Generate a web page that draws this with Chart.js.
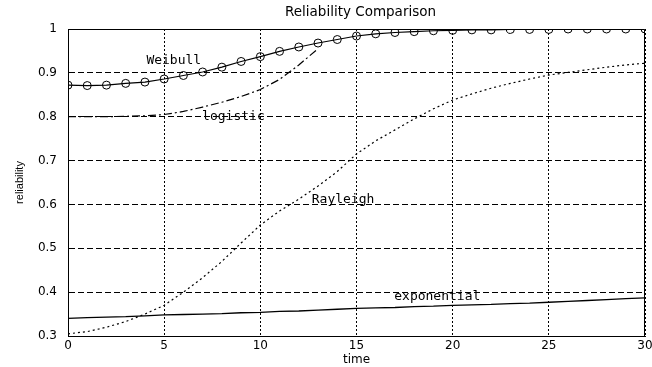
<!DOCTYPE html>
<html>
<head>
<meta charset="utf-8">
<script src="https://cdn.jsdelivr.net/npm/chart.js@4"></script>
<style>
  html, body { margin: 0; padding: 0; background: #fff; }
  #wrap { width: 652px; height: 367px; }
</style>
</head>
<body>
<div id="wrap"><canvas id="myChart"></canvas></div>
<script>
// time axis (0..30)
var time = [0,1,2,3,4,5,6,7,8,9,10,11,12,13,14,15,16,17,18,19,20,21,22,23,24,25,26,27,28,29,30];

var weibull = [0.872,0.871,0.872,0.876,0.879,0.886,0.894,0.902,0.913,0.926,0.937,0.949,0.959,0.968,0.976,0.984,0.989,0.992,0.994,0.996,0.997,0.998,0.998,0.999,0.999,0.999,1.0,1.0,1.0,1.0,1.0];
var logistic = [0.800,0.800,0.800,0.801,0.802,0.805,0.812,0.822,0.833,0.846,0.862,0.885,0.918,0.955];
var rayleigh = [0.305,0.310,0.320,0.333,0.350,0.370,0.400,0.433,0.470,0.512,0.553,0.585,0.612,0.642,0.675,0.715,0.745,0.770,0.795,0.818,0.838,0.852,0.865,0.876,0.886,0.895,0.901,0.907,0.913,0.918,0.922];
var exponential = [0.340,0.342,0.343,0.344,0.346,0.348,0.349,0.350,0.351,0.353,0.354,0.356,0.357,0.359,0.361,0.363,0.364,0.365,0.367,0.368,0.370,0.371,0.372,0.374,0.375,0.377,0.379,0.381,0.383,0.385,0.387];

var xTicks = [0, 5, 10, 15, 20, 25, 30];
var yTicks = [0.3, 0.4, 0.5, 0.6, 0.7, 0.8, 0.9, 1];
var yTickLabels = ['0.3', '0.4', '0.5', '0.6', '0.7', '0.8', '0.9', '1'];

// curve labels: [text, x, y]
var curveLabels = [
  ['Weibull', 5.5, 0.929],
  ['logistic', 8.6, 0.800],
  ['Rayleigh', 14.3, 0.610],
  ['exponential', 19.2, 0.389]
];

function pts(ys) {
  return ys.map(function (y, i) { return {x: time[i], y: y}; });
}

// title, curve labels and the box border
var extras = {
  id: 'extras',
  afterDatasetsDraw: function (chart) {
    var c = chart.ctx, a = chart.chartArea;
    var xs = chart.scales.x, ys = chart.scales.y;
    c.save();
    c.strokeStyle = '#000';
    c.lineWidth = 1;
    c.beginPath();
    c.moveTo(a.left, a.top + 0.5);
    c.lineTo(a.right - 0.5, a.top + 0.5);
    c.lineTo(a.right - 0.5, a.bottom);
    c.stroke();
    c.fillStyle = '#000';
    c.textAlign = 'center';
    c.textBaseline = 'middle';
    c.font = '13px "DejaVu Sans Mono"';
    curveLabels.forEach(function (l) {
      c.fillText(l[0], xs.getPixelForValue(l[1]), ys.getPixelForValue(l[2]));
    });
    c.font = '13.5px "DejaVu Sans"';
    c.fillText('Reliability Comparison', (a.left + a.right) / 2 + 4, 12);
    c.restore();
  }
};

var ctx = document.getElementById('myChart').getContext('2d');
var chart = new Chart(ctx, {
  type: 'line',
  data: {
    datasets: [{
      label: 'Weibull',
      data: pts(weibull),
      borderColor: '#000',
      borderWidth: 1.2,
      pointRadius: 4,
      pointBorderWidth: 1,
      pointBorderColor: '#000',
      pointBackgroundColor: 'rgba(0,0,0,0)'
    }, {
      label: 'logistic',
      data: pts(logistic),
      borderColor: '#000',
      borderWidth: 1.2,
      borderDash: [8, 3, 2, 3],
      pointRadius: 0
    }, {
      label: 'Rayleigh',
      data: pts(rayleigh),
      borderColor: '#000',
      borderWidth: 1.2,
      borderDash: [2, 3],
      pointRadius: 0
    }, {
      label: 'exponential',
      data: pts(exponential),
      borderColor: '#000',
      borderWidth: 1.3,
      pointRadius: 0
    }]
  },
  options: {
    responsive: true,
    maintainAspectRatio: false,
    animation: false,
    events: [],
    layout: {
      padding: {left: 0, right: 7, top: 29, bottom: 0}
    },
    plugins: {
      legend: {display: false},
      tooltip: {enabled: false}
    },
    scales: {
      x: {
        type: 'linear',
        min: 0,
        max: 30,
        afterBuildTicks: function (s) { s.ticks = xTicks.map(function (v) { return {value: v}; }); },
        afterFit: function (s) { s.height = 31; s.paddingRight = 0; s.paddingLeft = 0; },
        ticks: {
          color: '#000',
          padding: 3,
          maxRotation: 0,
          font: {family: 'DejaVu Sans', size: 12}
        },
        grid: {color: '#000', lineWidth: 1, drawTicks: false},
        border: {color: '#000', width: 1, dash: [2, 2]},
        title: {
          display: true,
          text: 'time',
          color: '#000',
          padding: {top: 3, bottom: 0},
          font: {family: 'DejaVu Sans', size: 12}
        }
      },
      y: {
        type: 'linear',
        min: 0.3,
        max: 1,
        afterBuildTicks: function (s) { s.ticks = yTicks.map(function (v) { return {value: v}; }); },
        afterFit: function (s) { s.width = 68; },
        ticks: {
          color: '#000',
          padding: 11,
          font: {family: 'DejaVu Sans', size: 12},
          callback: function (v) { return yTickLabels[yTicks.indexOf(v)]; }
        },
        grid: {color: '#000', lineWidth: 1, drawTicks: false},
        border: {color: '#000', width: 1, dash: [6, 3]},
        title: {
          display: true,
          text: 'reliability',
          color: '#000',
          padding: {top: 13, bottom: 0},
          font: {family: 'Liberation Sans', size: 11}
        }
      }
    }
  },
  plugins: [extras]
});
</script>
</body>
</html>
